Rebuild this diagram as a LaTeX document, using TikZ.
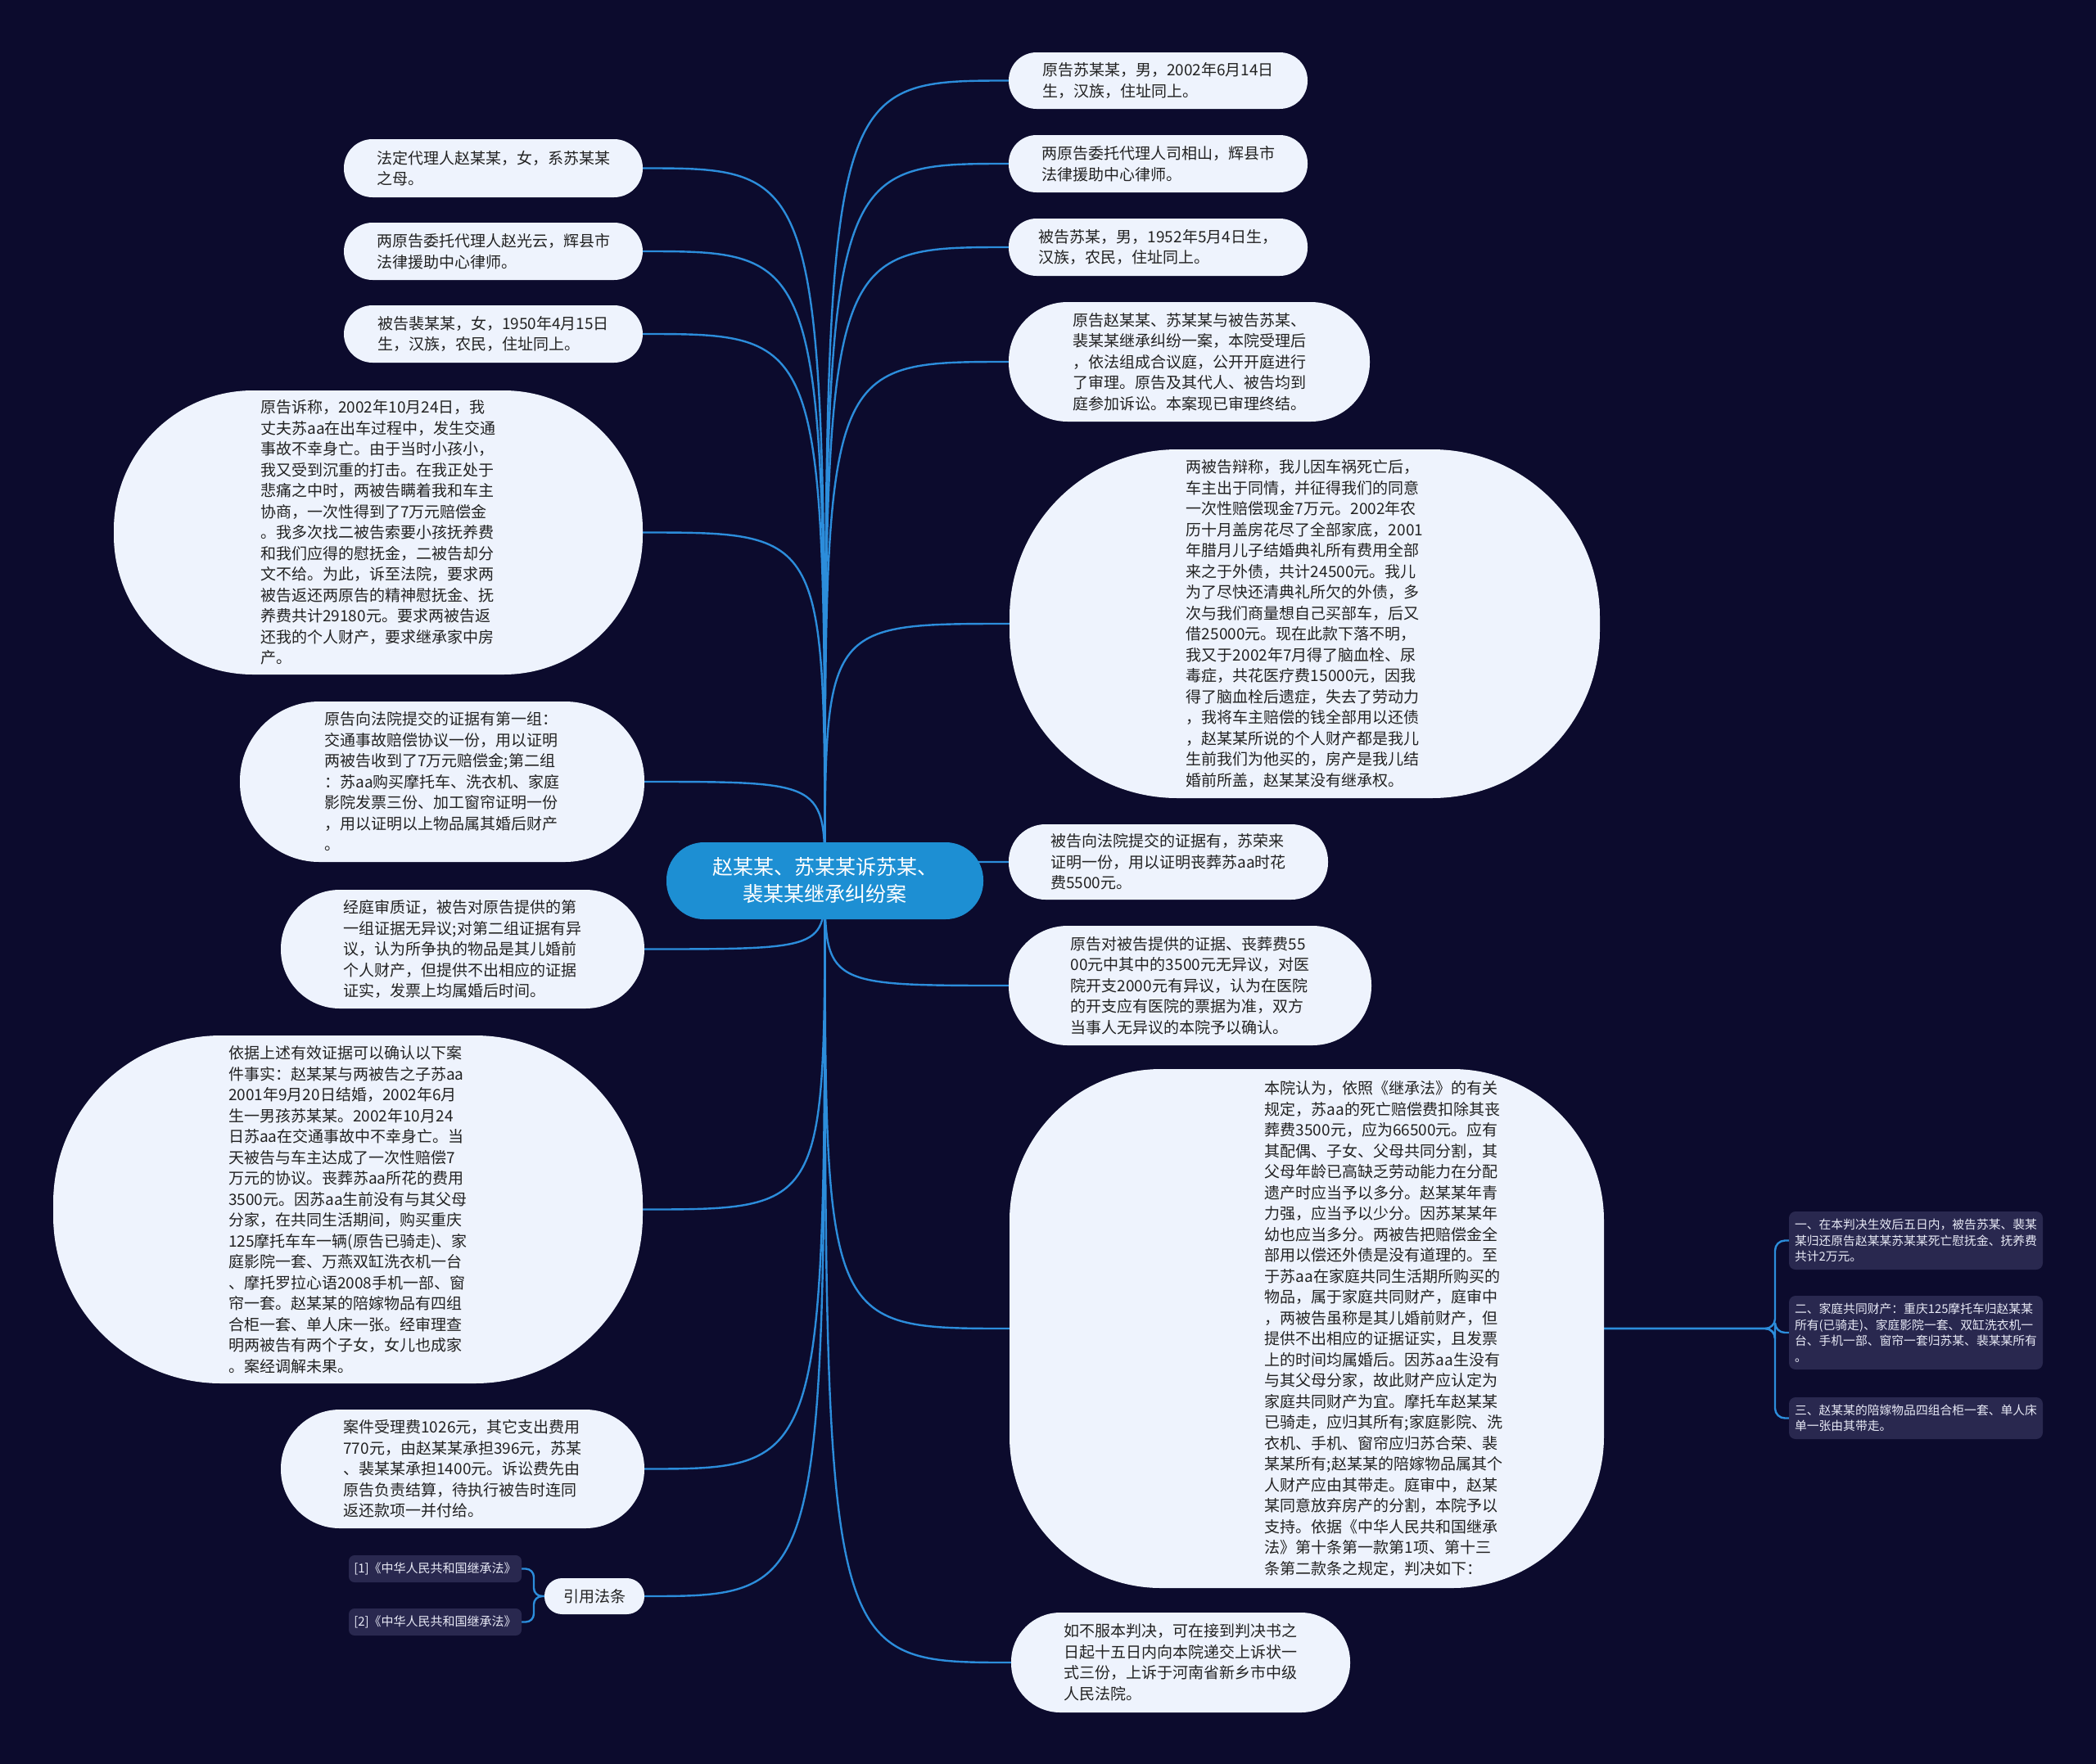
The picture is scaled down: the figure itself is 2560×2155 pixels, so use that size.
\documentclass[tikz,border=0pt]{standalone}
\usepackage{fontspec}
\newfontfamily\cjk{Noto Sans CJK SC}
\usetikzlibrary{calc}
\definecolor{bgc}{HTML}{0C0B2D}
\definecolor{nodefill}{HTML}{EEF3FD}
\definecolor{txt}{HTML}{222222}
\definecolor{linec}{HTML}{2C8DDB}
\definecolor{rootc}{HTML}{1D8FD3}
\definecolor{leaffill}{HTML}{29284F}
\definecolor{leaftxt}{HTML}{E8EAF6}
\pgfdeclarelayer{bg}\pgfdeclarelayer{lines}\pgfsetlayers{bg,lines,main}
\begin{document}
\begin{tikzpicture}[x=1pt,y=-1pt,
  topic/.style={fill=nodefill, text=txt, inner sep=0pt, align=left, font=\cjk\fontsize{19}{25.5}\selectfont},
  plaintext/.style={text=txt, inner sep=0pt, align=left, font=\cjk\fontsize{19}{25.5}\selectfont},
  rootbox/.style={fill=rootc, text=white, inner sep=0pt, align=center, font=\cjk\fontsize{25}{33}\selectfont},
  subbox/.style={fill=leaffill, text=leaftxt, inner sep=0pt, align=left, rounded corners=8, font=\cjk\fontsize{14.8}{19.5}\selectfont},
  citebox/.style={fill=leaffill, text=leaftxt, inner sep=0pt, align=left, rounded corners=7, font=\cjk\fontsize{15}{19}\selectfont},
  conn/.style={draw=linec, line width=2.4pt}
]
\begin{pgfonlayer}{bg}
\fill[bgc] (0,0) rectangle (2560,2155);
\end{pgfonlayer}
\useasboundingbox (0,0) rectangle (2560,2155);

% root
\node[rootbox, minimum width=387, minimum height=94, rounded corners=46] (root) at (1007.5,1076) {赵某某、苏某某诉苏某、\\裴某某继承纠纷案};

% left side
\node[topic, minimum width=365, minimum height=71, rounded corners=35] (L1) at (602.5,205.5) {法定代理人赵某某，女，系苏某某\\之母。};
\node[topic, minimum width=365, minimum height=70, rounded corners=35] (L2) at (602.5,307) {两原告委托代理人赵光云，辉县市\\法律援助中心律师。};
\node[topic, minimum width=365, minimum height=70, rounded corners=35] (L3) at (602.5,408) {被告裴某某，女，1950年4月15日\\生，汉族，农民，住址同上。};
\node[topic, minimum width=646, minimum height=347, rounded corners=170] (L4) at (462,650.5) {原告诉称，2002年10月24日，我\\丈夫苏aa在出车过程中，发生交通\\事故不幸身亡。由于当时小孩小，\\我又受到沉重的打击。在我正处于\\悲痛之中时，两被告瞒着我和车主\\协商，一次性得到了7万元赔偿金\\。我多次找二被告索要小孩抚养费\\和我们应得的慰抚金，二被告却分\\文不给。为此，诉至法院，要求两\\被告返还两原告的精神慰抚金、抚\\养费共计29180元。要求两被告返\\还我的个人财产，要求继承家中房\\产。};
\node[topic, minimum width=494, minimum height=196, rounded corners=97] (L5) at (540,955) {原告向法院提交的证据有第一组：\\交通事故赔偿协议一份，用以证明\\两被告收到了7万元赔偿金;第二组\\：苏aa购买摩托车、洗衣机、家庭\\影院发票三份、加工窗帘证明一份\\，用以证明以上物品属其婚后财产\\。};
\node[topic, minimum width=444, minimum height=145, rounded corners=72] (L6) at (565,1159.5) {经庭审质证，被告对原告提供的第\\一组证据无异议;对第二组证据有异\\议，认为所争执的物品是其儿婚前\\个人财产，但提供不出相应的证据\\证实，发票上均属婚后时间。};
\node[topic, minimum width=720, minimum height=425, rounded corners=205] (L7) at (425,1477.5) {依据上述有效证据可以确认以下案\\件事实：赵某某与两被告之子苏aa\\2001年9月20日结婚，2002年6月\\生一男孩苏某某。2002年10月24\\日苏aa在交通事故中不幸身亡。当\\天被告与车主达成了一次性赔偿7\\万元的协议。丧葬苏aa所花的费用\\3500元。因苏aa生前没有与其父母\\分家，在共同生活期间，购买重庆\\125摩托车车一辆(原告已骑走)、家\\庭影院一套、万燕双缸洗衣机一台\\、摩托罗拉心语2008手机一部、窗\\帘一套。赵某某的陪嫁物品有四组\\合柜一套、单人床一张。经审理查\\明两被告有两个子女，女儿也成家\\。案经调解未果。};
\node[topic, minimum width=444, minimum height=145, rounded corners=72] (L8) at (565,1794.5) {案件受理费1026元，其它支出费用\\770元，由赵某某承担396元，苏某\\、裴某某承担1400元。诉讼费先由\\原告负责结算，待执行被告时连同\\返还款项一并付给。};
\node[topic, minimum width=122, minimum height=44, rounded corners=21.5, align=center] (L9) at (726,1950) {引用法条};
\node[citebox, minimum width=211, minimum height=33] (C1) at (531.5,1916.5) {[1]《中华人民共和国继承法》};
\node[citebox, minimum width=211, minimum height=33] (C2) at (531.5,1981.5) {[2]《中华人民共和国继承法》};

% right side
\node[topic, minimum width=365, minimum height=69, rounded corners=34] (R1) at (1414.5,98.5) {原告苏某某，男，2002年6月14日\\生，汉族，住址同上。};
\node[topic, minimum width=365, minimum height=70, rounded corners=34] (R2) at (1414.5,200) {两原告委托代理人司相山，辉县市\\法律援助中心律师。};
\node[topic, minimum width=365, minimum height=70, rounded corners=34] (R3) at (1414.5,302) {被告苏某，男，1952年5月4日生，\\汉族，农民，住址同上。};
\node[topic, minimum width=441, minimum height=146, rounded corners=72] (R4) at (1452.5,442) {原告赵某某、苏某某与被告苏某、\\裴某某继承纠纷一案，本院受理后\\，依法组成合议庭，公开开庭进行\\了审理。原告及其代人、被告均到\\庭参加诉讼。本案现已审理终结。};
\node[topic, minimum width=721, minimum height=426, rounded corners=205] (R5) at (1593.5,762) {两被告辩称，我儿因车祸死亡后，\\车主出于同情，并征得我们的同意\\一次性赔偿现金7万元。2002年农\\历十月盖房花尽了全部家底，2001\\年腊月儿子结婚典礼所有费用全部\\来之于外债，共计24500元。我儿\\为了尽快还清典礼所欠的外债，多\\次与我们商量想自己买部车，后又\\借25000元。现在此款下落不明，\\我又于2002年7月得了脑血栓、尿\\毒症，共花医疗费15000元，因我\\得了脑血栓后遗症，失去了劳动力\\，我将车主赔偿的钱全部用以还债\\，赵某某所说的个人财产都是我儿\\生前我们为他买的，房产是我儿结\\婚前所盖，赵某某没有继承权。};
\node[topic, minimum width=390, minimum height=92, rounded corners=45] (R6) at (1427,1053) {被告向法院提交的证据有，苏荣来\\证明一份，用以证明丧葬苏aa时花\\费5500元。};
\node[topic, minimum width=443, minimum height=146, rounded corners=72] (R7) at (1453.5,1204) {原告对被告提供的证据、丧葬费55\\00元中其中的3500元无异议，对医\\院开支2000元有异议，认为在医院\\的开支应有医院的票据为准，双方\\当事人无异议的本院予以确认。};
\node[topic, minimum width=726, minimum height=634, rounded corners=185] (R8) at (1596,1623) {};
\node[plaintext] (R8t) at (1690,1623) {本院认为，依照《继承法》的有关\\规定，苏aa的死亡赔偿费扣除其丧\\葬费3500元，应为66500元。应有\\其配偶、子女、父母共同分割，其\\父母年龄已高缺乏劳动能力在分配\\遗产时应当予以多分。赵某某年青\\力强，应当予以少分。因苏某某年\\幼也应当多分。两被告把赔偿金全\\部用以偿还外债是没有道理的。至\\于苏aa在家庭共同生活期所购买的\\物品，属于家庭共同财产，庭审中\\，两被告虽称是其儿婚前财产，但\\提供不出相应的证据证实，且发票\\上的时间均属婚后。因苏aa生没有\\与其父母分家，故此财产应认定为\\家庭共同财产为宜。摩托车赵某某\\已骑走，应归其所有;家庭影院、洗\\衣机、手机、窗帘应归苏合荣、裴\\某某所有;赵某某的陪嫁物品属其个\\人财产应由其带走。庭审中，赵某\\某同意放弃房产的分割，本院予以\\支持。依据《中华人民共和国继承\\法》第十条第一款第1项、第十三\\条第二款条之规定，判决如下：};
\node[topic, minimum width=414, minimum height=122, rounded corners=60] (R9) at (1442,2031) {如不服本判决，可在接到判决书之\\日起十五日内向本院递交上诉状一\\式三份，上诉于河南省新乡市中级\\人民法院。};

% far right leaves
\node[subbox, minimum width=310, minimum height=71] (F1) at (2340,1515.5) {一、在本判决生效后五日内，被告苏某、裴某\\某归还原告赵某某苏某某死亡慰抚金、抚养费\\共计2万元。};
\node[subbox, minimum width=310, minimum height=90] (F2) at (2340,1628) {二、家庭共同财产：重庆125摩托车归赵某某\\所有(已骑走)、家庭影院一套、双缸洗衣机一\\台、手机一部、窗帘一套归苏某、裴某某所有\\。};
\node[subbox, minimum width=310, minimum height=51] (F3) at (2340,1732.5) {三、赵某某的陪嫁物品四组合柜一套、单人床\\单一张由其带走。};

\coordinate (J) at (2168,1623);
\coordinate (J2) at (652,1950);

\begin{pgfonlayer}{lines}
\foreach \n in {L1,L2,L3,L4,L5,L6,L7,L8,L9}{
  \draw[conn] (root.center) .. controls (root.center |- \n.east) .. (\n.east);
}
\foreach \n in {R1,R2,R3,R4,R5,R6,R7,R8,R9}{
  \draw[conn] (root.center) .. controls (root.center |- \n.west) .. (\n.west);
}
\foreach \n in {F1,F2,F3}{
  \draw[conn, rounded corners=12] (R8.east) -- (J) |- (\n.west);
}
\foreach \n in {C1,C2}{
  \draw[conn, rounded corners=10] (L9.west) -- (J2) |- (\n.east);
}
\end{pgfonlayer}
\end{tikzpicture}
\end{document}
